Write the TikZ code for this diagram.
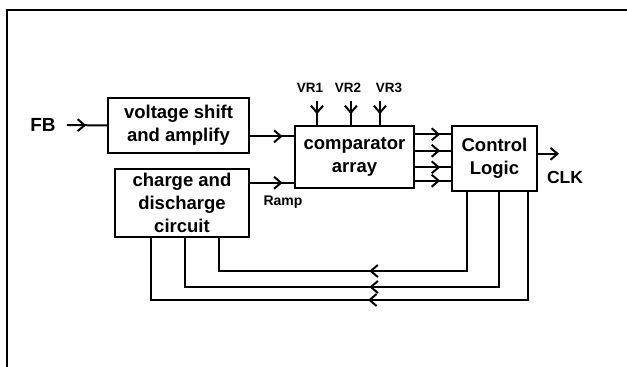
\documentclass[tikz,border=0pt]{standalone}
\usepackage{fontspec}
\setsansfont{Liberation Sans}
\usetikzlibrary{arrows.meta, calc, decorations.markings}
\tikzset{
    box/.style    ={draw, line width=2pt, align=center, inner sep=0pt,
                    font=\sffamily\bfseries\fontsize{18.5}{23}\selectfont},
    lbl/.style    ={inner sep=0pt, font=\sffamily\bfseries\fontsize{19}{21}\selectfont},
    vref/.style   ={inner sep=0pt, font=\sffamily\bfseries\fontsize{13.5}{15}\selectfont},
    wire/.style   ={line width=2pt},
    endtip/.style ={wire, -{Straight Barb[length=7pt, width=12pt]}},
    midtip/.style ={wire, postaction={decorate}, decoration={markings,
                    mark=at position #1 with {\arrow{Straight Barb[length=7pt, width=12pt]}}}},
    midtip/.default=0.5,
}

\begin{document}
\begin{tikzpicture}[x=1pt, y=-1pt]
\useasboundingbox (0,0) rectangle (627,367);

% ===================== Marco =====================
\draw[line width=1.5pt] (627,10) -- (7,10) -- (7,367);

% ===================== Bloques =====================
\node[box, minimum width=141pt, minimum height=55pt] (volt) at (178.5,125.5)
     {voltage shift\\and amplify};
\node[box, minimum width=134pt, minimum height=68pt] (chg) at (182,203)
     {charge and\\discharge\\circuit};
\node[box, minimum width=119pt, minimum height=62pt] (comp) at (354.5,157)
     {comparator\\array};
\node[box, minimum width=85pt, minimum height=65pt] (ctl) at (494.5,158.5)
     {Control\\Logic};

% ===================== Entradas =====================
\node[lbl, inner xsep=11pt] (fb) at (43,125) {FB};
\draw[midtip=0.48] (fb.east) -- (volt.west);

\coordinate (c1) at ($(comp.north west)!0.177!(comp.south west)$);
\coordinate (c2) at ($(comp.north west)!0.903!(comp.south west)$);
\draw[midtip=0.74] (c1 -| volt.east) -- (c1);
\draw[midtip=0.74] (c2 -| chg.east) -- (c2);
\node[vref, font=\sffamily\bfseries\fontsize{14}{16}\selectfont] (ramp) at (283,202) {Ramp};

% ===================== Referencias VR =====================
\node[vref] (vr1) at (310,88) {VR1};
\node[vref] (vr2) at (348,88) {VR2};
\node[vref] (vr3) at (389,88) {VR3};
\foreach \i/\f in {1/0.19, 2/0.47, 3/0.71} {
  \coordinate (t\i) at ($(comp.north west)!\f!(comp.north east)$);
  \draw[midtip=0.55] ([yshift=24pt]t\i) -- (t\i);
}

% ===================== Comparadores a logica =====================
\foreach \i/\f in {1/0.145, 2/0.403, 3/0.661, 4/0.871} {
  \coordinate (o\i) at ($(comp.north east)!\f!(comp.south east)$);
  \draw[midtip=0.7] (o\i) -- (o\i -| ctl.west);
}

% ===================== Salida CLK =====================
\coordinate (k) at ($(ctl.north east)!0.43!(ctl.south east)$);
\coordinate (clkend) at ([xshift=21pt]k);
\draw[endtip] (k) -- (clkend);
\node[lbl, font=\sffamily\bfseries\fontsize{17.5}{19}\selectfont] (clk) at (565,177) {CLK};

% ===================== Realimentacion =====================
\coordinate (bus1) at (0,271);
\coordinate (bus2) at (0,287);
\coordinate (bus3) at (0,300);
\foreach \i/\f/\g in {1/0.18/0.77, 2/0.55/0.52, 3/0.89/0.27} {
  \coordinate (b\i) at ($(ctl.south west)!\f!(ctl.south east)$);
  \coordinate (d\i) at ($(chg.south west)!\g!(chg.south east)$);
  \draw[midtip=0.49] (b\i) |- (d\i |- bus\i) -- (d\i);
}

\end{tikzpicture}
\end{document}
